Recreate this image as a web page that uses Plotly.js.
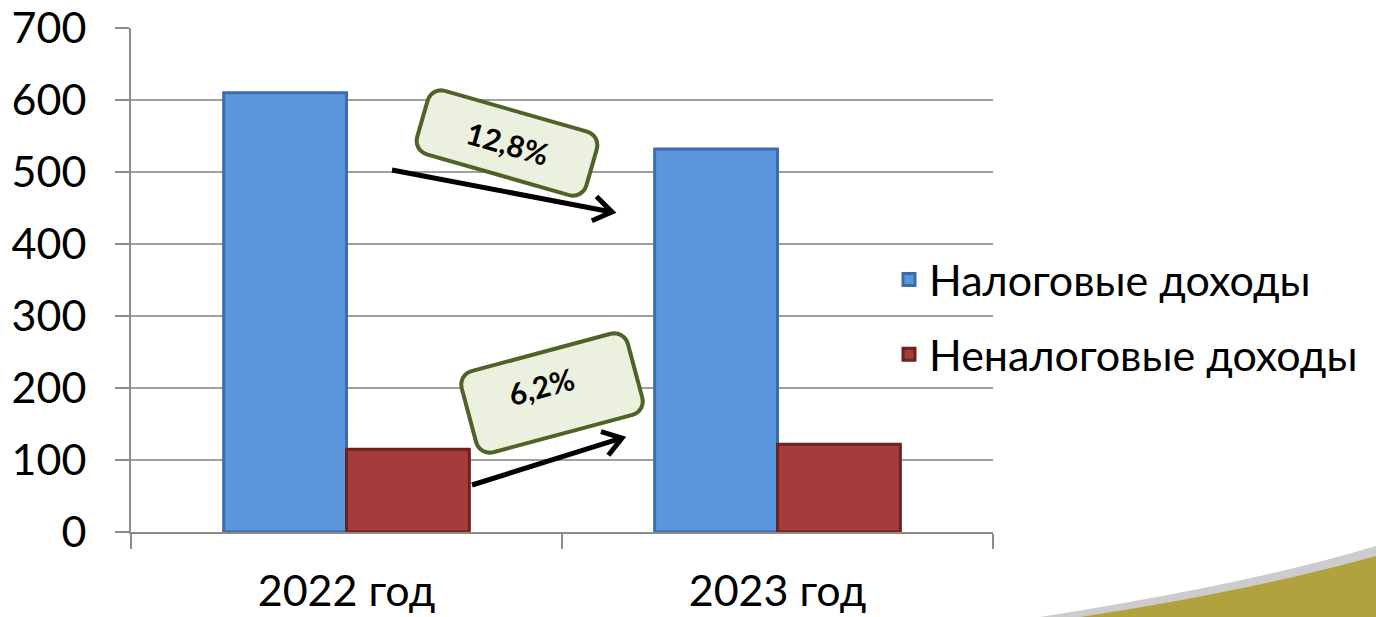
<!DOCTYPE html>
<html>
<head>
<meta charset="utf-8">
<script src="https://cdn.plot.ly/plotly-3.0.1.min.js"></script>
<style>html,body{margin:0;padding:0;background:#fff;}#chart{width:1376px;height:617px;}</style>
</head>
<body>
<div id="chart"></div>
<script>
// Data
const categories = ['2022 год', '2023 год'];
const taxIncome = [610, 532];      // Налоговые доходы
const nonTaxIncome = [115, 122];   // Неналоговые доходы
const seriesNames = ['Налоговые доходы', 'Неналоговые доходы'];
const changeLabels = ['12,8%', '6,2%'];
const yTicks = [0, 100, 200, 300, 400, 500, 600, 700];

// layout geometry (pixels)
const W = 1376, H = 617;
const M = {l: 131, r: 383, t: 28, b: 85};
const PW = W - M.l - M.r, PH = H - M.t - M.b;
const px = x => (x - M.l) / PW;
const py = y => (H - M.b - y) / PH;
const FONT = 'Lato, sans-serif';

function roundedRect(cx, cy, w, h, r, deg) {
  const t = deg * Math.PI / 180, c = Math.cos(t), s = Math.sin(t);
  const pts = [];
  const corners = [[w/2 - r, -h/2 + r, -90], [w/2 - r, h/2 - r, 0], [-w/2 + r, h/2 - r, 90], [-w/2 + r, -h/2 + r, 180]];
  corners.forEach(([ux, uy, a0]) => {
    for (let k = 0; k <= 6; k++) {
      const a = (a0 + k * 15) * Math.PI / 180;
      pts.push([ux + r * Math.cos(a), uy + r * Math.sin(a)]);
    }
  });
  return pts.map((p, i) => {
    const X = cx + p[0] * c - p[1] * s, Y = cy + p[0] * s + p[1] * c;
    return (i ? 'L' : 'M') + px(X).toFixed(5) + ',' + py(Y).toFixed(5);
  }).join(' ') + ' Z';
}
function arrowShapes(x0, y0, x1, y1) {
  const ang = Math.atan2(y1 - y0, x1 - x0), L = 22, sp = 0.6;
  const a1 = [x1 - L * Math.cos(ang - sp), y1 - L * Math.sin(ang - sp)];
  const a2 = [x1 - L * Math.cos(ang + sp), y1 - L * Math.sin(ang + sp)];
  return [
    {type: 'line', xref: 'paper', yref: 'paper', x0: px(x0), y0: py(y0), x1: px(x1 - 3*Math.cos(ang)), y1: py(y1 - 3*Math.sin(ang)), line: {color: '#000', width: 5}},
    {type: 'path', xref: 'paper', yref: 'paper',
     path: 'M' + px(a1[0]) + ',' + py(a1[1]) + ' L' + px(x1) + ',' + py(y1) + ' L' + px(a2[0]) + ',' + py(a2[1]),
     line: {color: '#000', width: 5}}
  ];
}

const boxFill = '#ebf1de', boxLine = '#4f6228';
const shapes = [
  // slide decoration bottom-right
  {type: 'path', xref: 'paper', yref: 'paper', layer: 'below',
   path: 'M' + px(1040) + ',' + py(617) + ' Q' + px(1250) + ',' + py(584) + ' ' + px(1376) + ',' + py(546) + ' L' + px(1376) + ',' + py(617) + ' Z',
   fillcolor: '#9a9a9a', line: {width: 0}, opacity: 0.5},
  {type: 'path', xref: 'paper', yref: 'paper', layer: 'below',
   path: 'M' + px(1080) + ',' + py(617) + ' Q' + px(1250) + ',' + py(591) + ' ' + px(1376) + ',' + py(556) + ' L' + px(1376) + ',' + py(617) + ' Z',
   fillcolor: '#b2a23e', line: {width: 0}},
  ...arrowShapes(392, 170, 612, 212),
  ...arrowShapes(472, 485, 622, 438),
  {type: 'path', xref: 'paper', yref: 'paper', path: roundedRect(507, 143, 176, 66, 14, 16), fillcolor: boxFill, line: {color: boxLine, width: 4}},
  {type: 'path', xref: 'paper', yref: 'paper', path: roundedRect(552, 393, 172, 84, 14, -15), fillcolor: boxFill, line: {color: boxLine, width: 4}}
];

const annotations = [
  {xref: 'paper', yref: 'paper', x: px(508), y: py(143), xanchor: 'center', yanchor: 'middle',
   text: '<b>' + changeLabels[0] + '</b>', showarrow: false, textangle: 16, font: {family: FONT, size: 30, color: '#000'}},
  {xref: 'paper', yref: 'paper', x: px(541), y: py(386), xanchor: 'center', yanchor: 'middle',
   text: '<b>' + changeLabels[1] + '</b>', showarrow: false, textangle: -15, font: {family: FONT, size: 30, color: '#000'}}
];

const traces = [
  {type: 'bar', name: seriesNames[0], x: categories, y: taxIncome, legendgroup: 'a',
   marker: {color: '#5b96dc', line: {color: '#3d6ca8', width: 3}}},
  {type: 'bar', name: seriesNames[1], x: categories, y: nonTaxIncome, legendgroup: 'b',
   marker: {color: '#a33c3a', line: {color: '#6b2220', width: 3}}}
];

const layout = {
  width: W, height: H,
  margin: M,
  paper_bgcolor: '#fff', plot_bgcolor: '#fff',
  font: {family: FONT, color: '#000'},
  barmode: 'group', bargap: 0.43, bargroupgap: 0,
  showlegend: true,
  legend: {x: px(889), y: py(245), xanchor: 'left', yanchor: 'top', bgcolor: 'rgba(0,0,0,0)',
           font: {size: 43, family: FONT}, tracegroupgap: 16, traceorder: 'grouped', itemwidth: 30},
  xaxis: {type: 'category', showline: true, linecolor: '#8c8c8c', linewidth: 2,
          ticks: 'outside', tickson: 'boundaries', ticklen: 15, tickcolor: '#8c8c8c', tickwidth: 2,
          tickfont: {size: 43}, ticklabelstandoff: 20, showgrid: false, fixedrange: true},
  yaxis: {range: [0, 700], tickvals: yTicks, showline: true, linecolor: '#8c8c8c', linewidth: 2,
          ticks: 'outside', ticklen: 14, tickcolor: '#8c8c8c', tickwidth: 2,
          showgrid: true, gridcolor: '#a0a0a0', gridwidth: 2, zeroline: false,
          tickfont: {size: 43}, ticklabelstandoff: 20, fixedrange: true},
  shapes: shapes,
  annotations: annotations
};

Plotly.newPlot('chart', traces, layout, {displayModeBar: false, staticPlot: true});
</script>
</body>
</html>
